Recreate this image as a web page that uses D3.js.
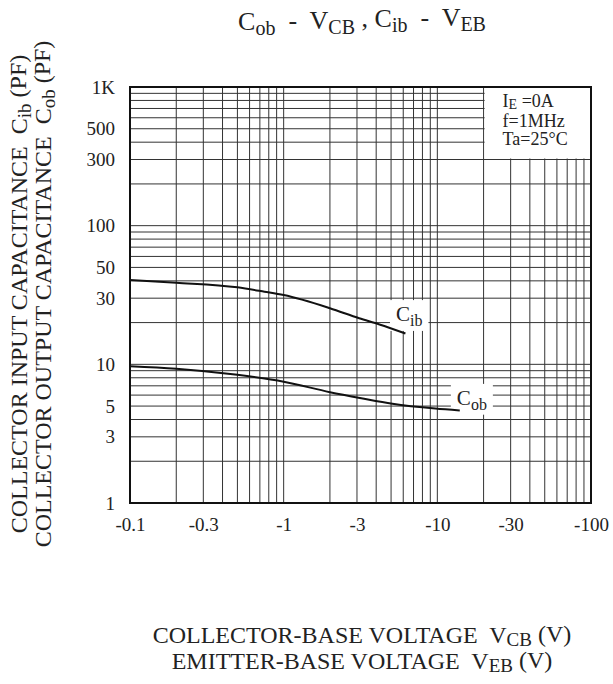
<!DOCTYPE html>
<html>
<head>
<meta charset="utf-8">
<script src="https://cdn.jsdelivr.net/npm/d3@7"></script>
<style>
  body { margin: 0; background: #fff; }
  text { font-family: "Liberation Serif", "Times New Roman", serif; fill: #222; white-space: pre; }
</style>
</head>
<body>
<script>
// Chart data
const xTicks = [0.1, 0.3, 1, 3, 10, 30, 100];
const xTickLabels = ['-0.1', '-0.3', '-1', '-3', '-10', '-30', '-100'];
const yTicks = [1, 3, 5, 10, 30, 50, 100, 300, 500, 1000];
const yTickLabels = ['1', '3', '5', '10', '30', '50', '100', '300', '500', '1K'];

// input capacitance vs |V_EB|
const cibV = [0.1, 0.2, 0.5, 0.75, 1, 2, 3.1, 4.2, 6.2];
const cibC = [40.6, 38.8, 35.9, 33.4, 31.6, 25.4, 21.5, 19.4, 16.7];
// output capacitance vs |V_CB|
const cobV = [0.1, 0.2, 0.5, 1, 2, 3.2, 5.1, 9.7, 14];
const cobC = [9.7, 9.3, 8.4, 7.5, 6.3, 5.7, 5.2, 4.8, 4.65];

const width = 613;
const height = 684;
const margin = { top: 87, right: 22, bottom: 181, left: 130 };

const svg = d3.select('body')
  .append('svg')
  .attr('width', width)
  .attr('height', height);

const x = d3.scaleLog().domain([0.1, 100]).range([margin.left, width - margin.right]);
const y = d3.scaleLog().domain([1, 1000]).range([height - margin.bottom, margin.top]);

// text with subscripts
function rich(sel, parts, subSize, shift = '0.3em') {
  let down = false;
  parts.forEach(([s, isSub]) => {
    const t = sel.append('tspan').text(s);
    if (isSub) t.attr('font-size', subSize);
    if (isSub && !down) t.attr('dy', shift);
    if (!isSub && down) t.attr('dy', '-' + shift);
    down = isSub;
  });
  return sel;
}

// grid
const grid = svg.append('g').attr('stroke', '#333').attr('stroke-width', 1);
grid.selectAll('line.v')
  .data(x.ticks())
  .enter()
  .append('line')
  .attr('x1', d => x(d)).attr('x2', d => x(d))
  .attr('y1', y(1)).attr('y2', y(1000));
grid.selectAll('line.h')
  .data(y.ticks())
  .enter()
  .append('line')
  .attr('class', 'h')
  .attr('x1', x(0.1)).attr('x2', x(100))
  .attr('y1', d => y(d)).attr('y2', d => y(d));

// white box for conditions
svg.append('rect')
  .attr('x', x(20) + 1)
  .attr('y', y(1000))
  .attr('width', x(100) - x(20) - 1)
  .attr('height', y(300) - y(1000) - 1)
  .attr('fill', '#fff');

const cond = svg.append('g').attr('font-size', 18);
rich(cond.append('text').attr('x', x(20) + 19).attr('y', y(1000) + 20), [['I', 0], ['E', 1], [' =0A', 0]], 14, '0.12em');
cond.append('text').attr('x', x(20) + 19).attr('y', y(1000) + 40).text('f=1MHz');
cond.append('text').attr('x', x(20) + 19).attr('y', y(1000) + 58).text('Ta=25\u00b0C');

// curve labels with white backing
function curveLabel(v, c, sub) {
  const g = svg.append('g');
  const bg = g.append('rect').attr('fill', '#fff');
  const t = rich(g.append('text').attr('x', x(v)).attr('y', y(c)).attr('font-size', 21),
    [['C', 0], [sub, 1]], 16);
  const b = t.node().getBBox();
  bg.attr('x', b.x - 6).attr('y', b.y - 2).attr('width', b.width + 12).attr('height', b.height + 4);
}
curveLabel(5.38, 20.5, 'ib');
curveLabel(13.4, 5.1, 'ob');

// curves
const line = d3.line()
  .x(d => x(d[0]))
  .y(d => y(d[1]))
  .curve(d3.curveMonotoneX);

svg.append('path')
  .datum(cibV.map((v, i) => [v, cibC[i]]))
  .attr('d', line)
  .attr('fill', 'none')
  .attr('stroke', '#111')
  .attr('stroke-width', 2);

svg.append('path')
  .datum(cobV.map((v, i) => [v, cobC[i]]))
  .attr('d', line)
  .attr('fill', 'none')
  .attr('stroke', '#111')
  .attr('stroke-width', 2);

// frame
svg.append('rect')
  .attr('x', x(0.1)).attr('y', y(1000))
  .attr('width', x(100) - x(0.1)).attr('height', y(1) - y(1000))
  .attr('fill', 'none').attr('stroke', '#111').attr('stroke-width', 2);

// axes
const xAxis = svg.append('g')
  .attr('transform', `translate(0, ${y(1)})`)
  .call(d3.axisBottom(x).tickValues(xTicks).tickFormat((d, i) => xTickLabels[i]).tickSize(0).tickPadding(15));
const yAxis = svg.append('g')
  .attr('transform', `translate(${x(0.1)}, 0)`)
  .call(d3.axisLeft(y).tickValues(yTicks).tickFormat((d, i) => yTickLabels[i]).tickSize(0).tickPadding(15));
[xAxis, yAxis].forEach(a => {
  a.select('.domain').remove();
  a.selectAll('text').attr('font-size', 19).attr('font-family', null).attr('fill', '#222');
});

// title
rich(svg.append('text').attr('x', 362).attr('y', 30).attr('text-anchor', 'middle').attr('font-size', 26),
  [['C', 0], ['ob', 1], ['  -  V', 0], ['CB', 1], [' , C', 0], ['ib', 1], ['  -  V', 0], ['EB', 1]], 20, '0.25em');

// axis titles
rich(svg.append('text').attr('x', 362).attr('y', 643).attr('text-anchor', 'middle').attr('font-size', 24),
  [['COLLECTOR-BASE VOLTAGE  V', 0], ['CB', 1], [' (V)', 0]], 19, '0.18em');
rich(svg.append('text').attr('x', 362).attr('y', 669).attr('text-anchor', 'middle').attr('font-size', 24),
  [['EMITTER-BASE VOLTAGE  V', 0], ['EB', 1], [' (V)', 0]], 19, '0.18em');

rich(svg.append('text').attr('transform', 'translate(27, 294) rotate(-90)').attr('text-anchor', 'middle').attr('font-size', 24),
  [['COLLECTOR INPUT CAPACITANCE  C', 0], ['ib', 1], [' (PF)', 0]], 19, '0.2em');
rich(svg.append('text').attr('transform', 'translate(51, 294) rotate(-90)').attr('text-anchor', 'middle').attr('font-size', 24),
  [['COLLECTOR OUTPUT CAPACITANCE  C', 0], ['ob', 1], [' (PF)', 0]], 19, '0.2em');
</script>
</body>
</html>
